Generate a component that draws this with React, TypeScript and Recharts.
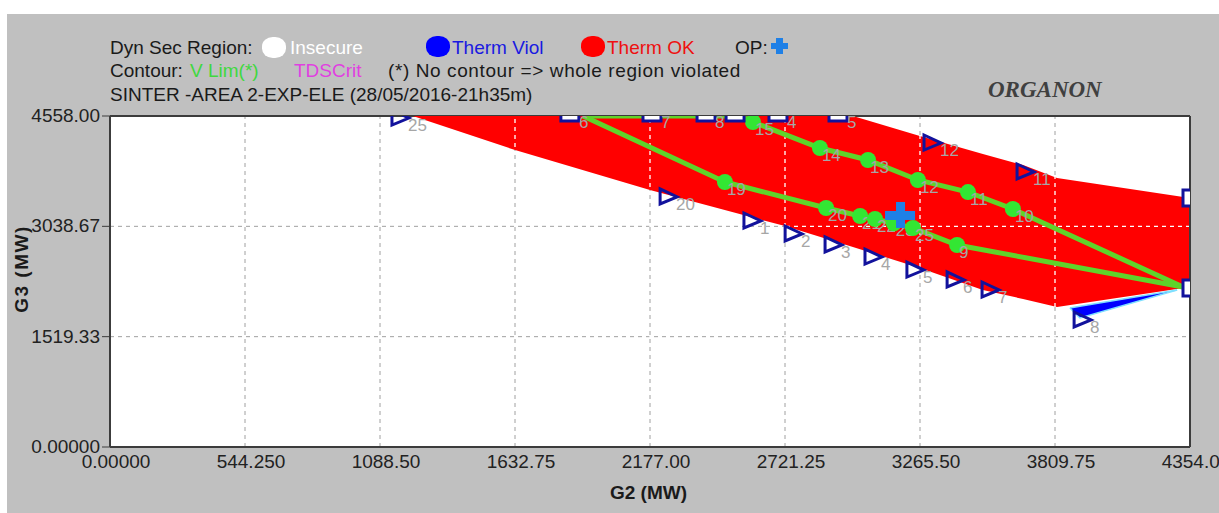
import React from "react";
import {
  ComposedChart,
  Area,
  Line,
  Scatter,
  XAxis,
  YAxis,
  CartesianGrid,
  ReferenceLine,
} from "recharts";

// axis ticks
const xTicks = [0, 544.25, 1088.5, 1632.75, 2177, 2721.25, 3265.5, 3809.75, 4354];
const xTickLabels = ["0.00000", "544.250", "1088.50", "1632.75", "2177.00", "2721.25", "3265.50", "3809.75", "4354.00"];
const yTicks = [0, 1519.33, 3038.67, 4558];
const yTickLabels = ["0.00000", "1519.33", "3038.67", "4558.00"];

// Therm OK region (red): lower / upper G3 edge at each G2
const okG2 = [1221, 1633, 2177, 2721, 2995, 3265, 3519, 3681, 3818, 4354];
const okLow = [4558, 4090, 3539, 3043, 2754, 2465, 2162, 2038, 1928, 2203];
const okHigh = [4558, 4558, 4558, 4558, 4558, 4282, 4035, 3883, 3704, 3429];

// Therm Viol region (blue)
const violG2 = [3870, 3910, 4302];
const violLow = [1914, 1776, 2162];
const violHigh = [1914, 1938, 2162];

// V Lim contours
const vlimAG2 = [1907, 2479, 2887, 3024, 3084, 3160, 3237, 3415, 4326];
const vlimAG3 = [4558, 3649, 3291, 3181, 3140, 3080, 3016, 2782, 2203];
const vlimALabels = ["", "19", "20", "21", "22", "23", "25", "9", ""];

const vlimBG2 = [1907, 2540, 2592, 2862, 3056, 3257, 3459, 3640, 4326];
const vlimBG3 = [4558, 4558, 4475, 4117, 3952, 3677, 3511, 3277, 2203];
const vlimBLabels = ["", "", "15", "14", "13", "12", "11", "10", ""];

// simulation points on the region border
const triG2 = [1169, 2250, 2588, 2754, 2915, 3076, 3245, 3407, 3548, 3919, 3314, 3689];
const triG3 = [4530, 3443, 3112, 2933, 2782, 2616, 2437, 2300, 2162, 1749, 4186, 3787];
const triLabels = ["25", "20", "1", "2", "3", "4", "5", "6", "7", "8", "12", "11"];

const topSqG2 = [1854, 2185, 2403, 2520, 2693, 2935];
const topSqLabels = ["6", "7", "8", "", "4", "5"];
const rightSqG3 = [3429, 2189];

// operating point
const opG2 = [3185];
const opG3 = [3195];

const okData = okG2.map((g2, i) => ({ g2, band: [okLow[i], okHigh[i]] }));
const violData = violG2.map((g2, i) => ({ g2, band: [violLow[i], violHigh[i]] }));
const vlimA = vlimAG2.map((g2, i) => ({ g2, g3: vlimAG3[i], label: vlimALabels[i] }));
const vlimB = vlimBG2.map((g2, i) => ({ g2, g3: vlimBG3[i], label: vlimBLabels[i] }));
const triData = triG2.map((g2, i) => ({ g2, g3: triG3[i], label: triLabels[i] }));
const topSqData = topSqG2.map((g2, i) => ({ g2, g3: 4558, label: topSqLabels[i] }));
const rightSqData = rightSqG3.map((g3) => ({ g2: 4354, g3 }));
const opData = opG2.map((g2, i) => ({ g2, g3: opG3[i] }));

const FONT = "Arial, 'Liberation Sans', sans-serif";
const NAVY = "#12129c";
const LABEL_GRAY = "#a6a6a6";
const FRAME = "#3c3c3c";

const XTick = (props: any) => {
  const { x, y, payload } = props;
  const i = xTicks.indexOf(payload.value);
  return (
    <text x={x + 6} y={y + 19} textAnchor="middle" fontSize={19} fill="#222" fontFamily={FONT}>
      {xTickLabels[i]}
    </text>
  );
};

const YTick = (props: any) => {
  const { x, y, payload } = props;
  const i = yTicks.indexOf(payload.value);
  return (
    <text x={x} y={y + 6} textAnchor="end" fontSize={19} fill="#222" fontFamily={FONT}>
      {yTickLabels[i]}
    </text>
  );
};

const ptLabel = (cx: number, cy: number, txt: string) =>
  txt ? (
    <text x={cx + 4} y={cy + 13} fontSize={17} fill={LABEL_GRAY} fontFamily={FONT}>
      {txt}
    </text>
  ) : null;

const Triangle = (props: any) => {
  const { cx, cy, payload } = props;
  return (
    <g>
      <path
        d={`M${cx - 8},${cy - 8} L${cx + 9},${cy} L${cx - 8},${cy + 7} Z`}
        fill="none"
        stroke={NAVY}
        strokeWidth={3}
      />
      {ptLabel(cx + 4, cy, payload.label)}
    </g>
  );
};

const TopSquare = (props: any) => {
  const { cx, cy, payload } = props;
  return (
    <g>
      <rect x={cx - 9} y={cy} width={18} height={5} fill="#fff" />
      <path d={`M${cx - 9},${cy} V${cy + 5} H${cx + 9} V${cy}`} fill="none" stroke={NAVY} strokeWidth={3} />
      {payload.label ? (
        <text x={cx + 9} y={cy + 12} fontSize={17} fill={LABEL_GRAY} fontFamily={FONT}>
          {payload.label}
        </text>
      ) : null}
    </g>
  );
};

const RightSquare = (props: any) => {
  const { cx, cy } = props;
  return (
    <g>
      <rect x={cx - 7} y={cy - 8} width={7} height={16} fill="#fff" />
      <path d={`M${cx},${cy - 8} H${cx - 7} V${cy + 8} H${cx}`} fill="none" stroke={NAVY} strokeWidth={3} />
    </g>
  );
};

const OpPlus = (props: any) => {
  const { cx, cy } = props;
  return (
    <g fill="#1f80e6">
      <rect x={cx - 15} y={cy - 4} width={30} height={9} />
      <rect x={cx - 4} y={cy - 13} width={9} height={26} />
    </g>
  );
};

const VDot = (props: any) => {
  const { cx, cy, payload, index } = props;
  if (!payload.label) return <g key={index} />;
  return (
    <g key={index}>
      <circle cx={cx} cy={cy} r={8} fill="#33e633" />
      {ptLabel(cx - 2, cy, payload.label)}
    </g>
  );
};

const txt = (extra: React.CSSProperties): React.CSSProperties => ({
  position: "absolute",
  fontFamily: FONT,
  fontSize: 19,
  lineHeight: "20px",
  whiteSpace: "nowrap",
  color: "#1a1a1a",
  ...extra,
});

const blob = (left: number, top: number, color: string): React.CSSProperties => ({
  position: "absolute",
  left,
  top,
  width: 24,
  height: 21,
  borderRadius: "45%",
  background: color,
});

export default function App() {
  return (
    <div style={{ position: "absolute", left: 0, top: 0, width: 1219, height: 513, overflow: "hidden", background: "#fff" }}>
      <div style={{ position: "absolute", left: 7, top: 14, width: 1212, height: 499, background: "#c0c0c0" }} />

      {/* header legend */}
      <div style={txt({ left: 110, top: 38 })}>Dyn Sec Region:</div>
      <div style={blob(262, 37, "#ffffff")} />
      <div style={txt({ left: 290, top: 38, color: "#ffffff" })}>Insecure</div>
      <div style={blob(426, 36, "#0000ff")} />
      <div style={txt({ left: 452, top: 38, color: "#1a1ae0" })}>Therm Viol</div>
      <div style={blob(581, 36, "#ff0000")} />
      <div style={txt({ left: 607, top: 38, color: "#ee1010" })}>Therm OK</div>
      <div style={txt({ left: 735, top: 38 })}>OP:</div>
      <div style={{ position: "absolute", left: 771, top: 43, width: 17, height: 6, background: "#1f80e6" }} />
      <div style={{ position: "absolute", left: 776, top: 38, width: 7, height: 16, background: "#1f80e6" }} />

      <div style={txt({ left: 110, top: 61 })}>Contour:</div>
      <div style={txt({ left: 190, top: 61, color: "#3fd83f" })}>V Lim(*)</div>
      <div style={txt({ left: 294, top: 61, color: "#e040e0" })}>TDSCrit</div>
      <div style={txt({ left: 388, top: 61, letterSpacing: 0.6 })}>(*) No contour =&gt; whole region violated</div>

      <div style={txt({ left: 110, top: 85 })}>SINTER -AREA 2-EXP-ELE (28/05/2016-21h35m)</div>

      <div
        style={txt({
          left: 988,
          top: 78,
          fontFamily: "'Liberation Serif', 'DejaVu Serif', serif",
          fontStyle: "italic",
          fontWeight: "bold",
          fontSize: 23,
          color: "#404040",
          lineHeight: "24px",
        })}
      >
        ORGANON
      </div>

      <div style={{ position: "absolute", left: 0, top: 0 }}>
        <ComposedChart width={1219} height={513} margin={{ top: 116, right: 29, bottom: 6, left: 0 }}>
          <CartesianGrid horizontal={false} vertical={false} fill="#ffffff" fillOpacity={1} />
          <XAxis
            dataKey="g2"
            type="number"
            domain={[0, 4354]}
            allowDataOverflow
            ticks={xTicks}
            interval={0}
            tick={<XTick />}
            tickLine={false}
            tickSize={0}
            height={60}
            axisLine={{ stroke: FRAME, strokeWidth: 2 }}
          />
          <YAxis
            dataKey="g3"
            type="number"
            domain={[0, 4558]}
            allowDataOverflow
            ticks={yTicks}
            interval={0}
            tick={<YTick />}
            tickLine={{ stroke: FRAME }}
            tickSize={8}
            tickMargin={2}
            width={110}
            axisLine={{ stroke: FRAME, strokeWidth: 2 }}
          />
          {/* gray dashed grid, under the regions */}
          {xTicks.slice(1, -1).map((v) => (
            <ReferenceLine key={`gx${v}`} x={v} stroke="#a0a0a0" strokeDasharray="4 4" zIndex={-50} />
          ))}
          {yTicks.slice(1, -1).map((v) => (
            <ReferenceLine key={`gy${v}`} y={v} stroke="#a0a0a0" strokeDasharray="4 4" zIndex={-50} />
          ))}
          <ReferenceLine y={4558} stroke={FRAME} strokeWidth={2} zIndex={-50} />
          <Area
            data={okData}
            dataKey="band"
            type="linear"
            fill="#ff0000"
            fillOpacity={1}
            stroke="none"
            isAnimationActive={false}
          />
          <Area
            data={violData}
            dataKey="band"
            type="linear"
            fill="#0000ff"
            fillOpacity={1}
            stroke="#7fe0ff"
            strokeWidth={1.5}
            isAnimationActive={false}
          />
          {/* white grid in the gaps, visible only over the regions */}
          {xTicks.slice(1, -1).map((v) => (
            <ReferenceLine key={`wx${v}`} x={v} stroke="#ffffff" strokeDasharray="4 4" strokeDashoffset={4} strokeWidth={1.3} />
          ))}
          {yTicks.slice(1, -1).map((v) => (
            <ReferenceLine key={`wy${v}`} y={v} stroke="#ffffff" strokeDasharray="4 4" strokeDashoffset={4} strokeWidth={1.3} />
          ))}
          <ReferenceLine x={4354} stroke={FRAME} strokeWidth={2} />
          <Line
            data={vlimA}
            dataKey="g3"
            type="linear"
            stroke="#5fd42a"
            strokeWidth={5}
            dot={VDot}
            activeDot={false}
            isAnimationActive={false}
          />
          <Line
            data={vlimB}
            dataKey="g3"
            type="linear"
            stroke="#5fd42a"
            strokeWidth={5}
            dot={VDot}
            activeDot={false}
            isAnimationActive={false}
          />
          <Scatter data={triData} shape={Triangle} isAnimationActive={false} />
          <Scatter data={topSqData} shape={TopSquare} isAnimationActive={false} />
          <Scatter data={rightSqData} shape={RightSquare} isAnimationActive={false} />
          <Scatter data={opData} shape={OpPlus} isAnimationActive={false} />
        </ComposedChart>
      </div>

      <div style={txt({ left: 610, top: 483, fontWeight: "bold", fontSize: 19 })}>G2 (MW)</div>
      <div
        style={txt({
          left: -28,
          top: 259,
          width: 100,
          textAlign: "center",
          fontWeight: "bold",
          fontSize: 19,
          letterSpacing: 1.5,
          transform: "rotate(-90deg)",
        })}
      >
        G3 (MW)
      </div>
    </div>
  );
}
